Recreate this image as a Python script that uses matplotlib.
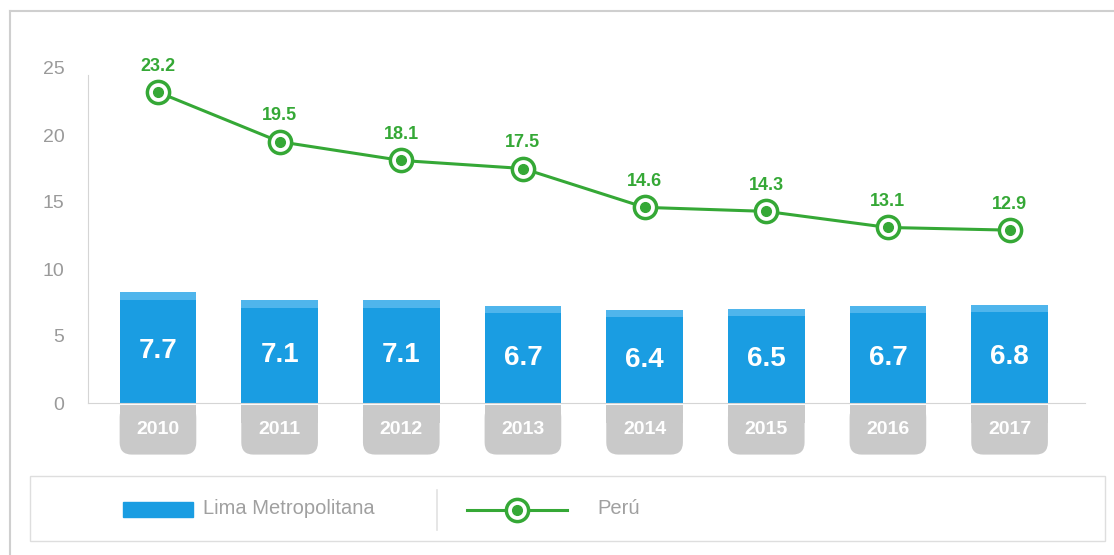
import numpy as np
import matplotlib
matplotlib.use("Agg")
import matplotlib.pyplot as plt
from matplotlib.patches import FancyBboxPatch, Rectangle

plt.rcParams['font.family'] = ['Liberation Sans', 'DejaVu Sans']

years = ['2010', '2011', '2012', '2013', '2014', '2015', '2016', '2017']
lima = [7.7, 7.1, 7.1, 6.7, 6.4, 6.5, 6.7, 6.8]
peru = [23.2, 19.5, 18.1, 17.5, 14.6, 14.3, 13.1, 12.9]
yticks = [0, 5, 10, 15, 20, 25]

blue = '#1a9de2'
blue_top = '#4fb5ec'
green = '#35a836'
grey_txt = '#9a9a9a'

W, H = 1114, 555
fig = plt.figure(figsize=(W / 100, H / 100), dpi=100)

# background axes in pixel coords for frame and legend
bg = fig.add_axes([0, 0, 1, 1])
bg.set_xlim(0, W)
bg.set_ylim(H, 0)
bg.axis('off')
bg.plot([10, 10], [11, H], color='#cfcfcf', lw=1.5)
bg.plot([10, W], [11, 11], color='#cfcfcf', lw=1.5)
bg.add_patch(Rectangle((30, 476), 1075, 65, fill=False, ec='#dedede', lw=1))
bg.add_patch(Rectangle((123, 502), 70, 15, color=blue))
bg.text(203, 509, 'Lima Metropolitana', color='#a0a0a0', fontsize=14.5, va='center')
bg.plot([437, 437], [490, 530], color='#e2e2e2', lw=1.2)
bg.plot([467, 567], [510, 510], color=green, lw=2.2)
bg.plot([517], [510], marker='o', ms=16, mfc='white', mec=green, mew=2.5)
bg.plot([517], [510], marker='o', ms=7, color=green)
bg.text(597, 509, 'Perú', color='#a0a0a0', fontsize=14.5, va='center')

ax = fig.add_axes([88 / W, 1 - 403 / H, 997 / W, 335 / H])
x = np.arange(len(years))
bw = 0.63

ax.bar(x, lima, width=bw, color=blue, zorder=2)
ax.bar(x, [0.55] * len(x), bottom=lima, width=bw, color=blue_top, zorder=2)
for xi, v in zip(x, lima):
    ax.text(xi, v / 2, f'{v}', color='white', fontsize=20, fontweight='bold',
            ha='center', va='center', zorder=3)

# year labels in grey boxes (rounded bottom) below the axis
for xi, yr in zip(x, years):
    box = FancyBboxPatch((xi - bw / 2, -3.85), bw, 3.7,
                         boxstyle='round,pad=0,rounding_size=0.1',
                         mutation_aspect=121.7 / 13.4,
                         fc='#c9c9c9', ec='none', clip_on=False, zorder=1)
    ax.add_patch(box)
    ax.add_patch(Rectangle((xi - bw / 2, -1.5), bw, 1.35, fc='#c9c9c9',
                           ec='none', clip_on=False, zorder=1))
    ax.text(xi, -2.0, yr, color='white', fontsize=14, fontweight='bold',
            ha='center', va='center', clip_on=False, zorder=2)

ax.plot(x, peru, color=green, lw=2.2, marker='o', ms=16, mfc='white',
        mec=green, mew=2.5, zorder=4)
ax.plot(x, peru, 'o', color=green, ms=7, zorder=5)
for xi, v in zip(x, peru):
    ax.text(xi, v + 1.3, f'{v}', color=green, fontsize=13, fontweight='bold',
            ha='center', va='bottom', zorder=5)

ax.set_xlim(-0.575, 7.62)
ax.set_ylim(0, 25)
ax.set_yticks(yticks)
ax.set_xticks([])
ax.tick_params(axis='y', length=0, labelsize=14, labelcolor=grey_txt, pad=17)
for s in ['top', 'right']:
    ax.spines[s].set_visible(False)
ax.spines['left'].set_color('#d5d5d5')
ax.spines['left'].set_bounds(0, 24.5)
ax.spines['bottom'].set_color('#d5d5d5')
ax.patch.set_alpha(0)

fig.savefig('out.png', dpi=100)
